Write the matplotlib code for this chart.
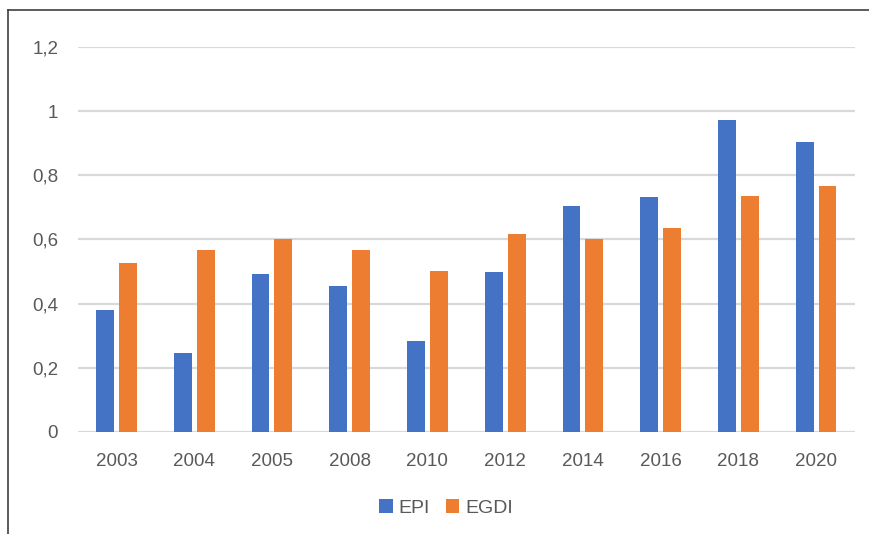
import numpy as np
import matplotlib.pyplot as plt
from matplotlib.lines import Line2D

# data
years = ["2003", "2004", "2005", "2008", "2010", "2012", "2014", "2016", "2018", "2020"]
epi = [0.379, 0.245, 0.492, 0.455, 0.285, 0.498, 0.705, 0.731, 0.973, 0.903]
egdi = [0.528, 0.568, 0.601, 0.568, 0.503, 0.618, 0.601, 0.637, 0.735, 0.767]
y_ticks = [0, 0.2, 0.4, 0.6, 0.8, 1.0, 1.2]
y_labels = ["0", "0,2", "0,4", "0,6", "0,8", "1", "1,2"]

BLUE = "#4472C4"
ORANGE = "#ED7D31"
TXT = "#595959"

plt.rcParams["font.family"] = ["Liberation Sans Narrow", "Liberation Sans", "DejaVu Sans"]

fig = plt.figure(figsize=(8.69, 5.34), dpi=100)
ax = fig.add_axes([77.6 / 869, 1 - 432 / 534, (855 - 77.6) / 869, (432 - 47) / 534])

x = np.arange(len(years))
w = 0.23
off = 0.147
ax.bar(x - off, epi, w, color=BLUE, label="EPI", zorder=3)
ax.bar(x + off, egdi, w, color=ORANGE, label="EGDI", zorder=3)

ax.set_xlim(-0.5, len(years) - 0.5)
ax.set_ylim(0, 1.2)
ax.set_yticks(y_ticks)
ax.set_yticklabels(y_labels)
ax.set_xticks(x)
ax.set_xticklabels(years)
ax.tick_params(axis="y", length=0, pad=14, labelsize=13.5, labelcolor=TXT)
ax.tick_params(axis="x", length=0, pad=15, labelsize=13.5, labelcolor=TXT)
ax.grid(axis="y", color="#D9D9D9", linewidth=1.6, zorder=0)
ax.set_axisbelow(True)
for s in ax.spines.values():
    s.set_visible(False)

leg = fig.legend(loc="center", bbox_to_anchor=(446 / 869, 1 - 508 / 534), ncol=2,
                 frameon=False, fontsize=14, handlelength=0.7, handleheight=0.7,
                 handletextpad=0.3, columnspacing=0.8)
for t in leg.get_texts():
    t.set_color(TXT)

# outer frame (only top and left visible in the reference)
fig.add_artist(Line2D([8 / 869, 8 / 869], [0, 1 - 10 / 534], transform=fig.transFigure,
                      color="#404040", linewidth=1.2))
fig.add_artist(Line2D([8 / 869, 1], [1 - 10 / 534, 1 - 10 / 534], transform=fig.transFigure,
                      color="#404040", linewidth=1.2))

fig.savefig("out.png", dpi=100)
